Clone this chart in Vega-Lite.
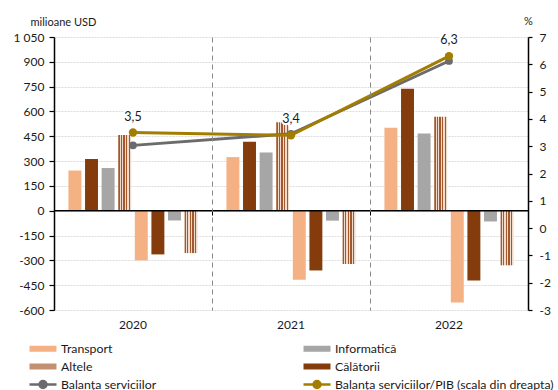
{
  "$schema": "https://vega.github.io/schema/vega-lite/v6.json",
  "width": 474,
  "height": 273,
  "autosize": {"type": "none"},
  "padding": {"left": 54, "top": 37, "right": 30, "bottom": 80},
  "background": "white",
  "config": {
    "view": {"stroke": null},
    "font": "Lato",
    "axis": {"labelFont": "Lato", "labelFontSize": 12, "labelColor": "#1a1a1a", "titleFont": "Lato", "titleFontWeight": "normal", "titleFontSize": 11, "titleColor": "#1a1a1a"},
    "legend": {"labelFont": "Lato"}
  },
  "datasets": {
    "bars": [
      {"year": "2020", "slot": "T+", "cat": "Transport", "value": 243},
      {"year": "2020", "slot": "C+", "cat": "Călătorii", "value": 312},
      {"year": "2020", "slot": "I+", "cat": "Informatică", "value": 258},
      {"year": "2020", "slot": "A+", "cat": "Altele", "value": 457},
      {"year": "2020", "slot": "T-", "cat": "Transport", "value": -300},
      {"year": "2020", "slot": "C-", "cat": "Călătorii", "value": -264},
      {"year": "2020", "slot": "I-", "cat": "Informatică", "value": -59},
      {"year": "2020", "slot": "A-", "cat": "Altele", "value": -256},
      {"year": "2021", "slot": "T+", "cat": "Transport", "value": 324},
      {"year": "2021", "slot": "C+", "cat": "Călătorii", "value": 417},
      {"year": "2021", "slot": "I+", "cat": "Informatică", "value": 352},
      {"year": "2021", "slot": "A+", "cat": "Altele", "value": 534},
      {"year": "2021", "slot": "T-", "cat": "Transport", "value": -417},
      {"year": "2021", "slot": "C-", "cat": "Călătorii", "value": -361},
      {"year": "2021", "slot": "I-", "cat": "Informatică", "value": -60},
      {"year": "2021", "slot": "A-", "cat": "Altele", "value": -322},
      {"year": "2022", "slot": "T+", "cat": "Transport", "value": 501},
      {"year": "2022", "slot": "C+", "cat": "Călătorii", "value": 737},
      {"year": "2022", "slot": "I+", "cat": "Informatică", "value": 467},
      {"year": "2022", "slot": "A+", "cat": "Altele", "value": 568},
      {"year": "2022", "slot": "T-", "cat": "Transport", "value": -554},
      {"year": "2022", "slot": "C-", "cat": "Călătorii", "value": -421},
      {"year": "2022", "slot": "I-", "cat": "Informatică", "value": -65},
      {"year": "2022", "slot": "A-", "cat": "Altele", "value": -330}
    ],
    "lines": [
      {"year": "2020", "bal": 395, "pct": 3.5, "lbl": "3,5"},
      {"year": "2021", "bal": 465, "pct": 3.4, "lbl": "3,4"},
      {"year": "2022", "bal": 905, "pct": 6.3, "lbl": "6,3"}
    ]
  },
  "layer": [
    {
      "resolve": {"axis": {"x": "independent", "y": "independent"}},
      "layer": [
        {
          "data": {"name": "bars"},
          "transform": [{"filter": "datum.cat !== 'Altele'"}],
          "mark": {"type": "bar"},
          "encoding": {
            "x": {"field": "year", "type": "nominal", "scale": {"domain": ["2020", "2021", "2022"], "paddingInner": 0, "paddingOuter": 0},
              "axis": {"orient": "bottom", "title": null, "domain": false, "ticks": false, "grid": false, "labelAngle": 0, "labelPadding": 9}},
            "xOffset": {"field": "slot", "type": "nominal", "scale": {"domain": ["T+", "C+", "I+", "A+", "T-", "C-", "I-", "A-"], "paddingInner": 0.22, "paddingOuter": 0.87}},
            "y": {"field": "value", "type": "quantitative", "scale": {"domain": [-600, 1050], "nice": false, "zero": false},
              "axis": {"values": [-600, -450, -300, -150, 0, 150, 300, 450, 600, 750, 900, 1050], "grid": false, "zindex": 1, "domainColor": "#000", "domainWidth": 1.5, "tickColor": "#000", "tickSize": 5, "tickWidth": 1.2, "labelPadding": 5,
                "labelExpr": "(datum.value < 0 ? '-' : '') + replace(format(abs(datum.value), ','), ',', ' ')",
                "title": "milioane USD", "titleAngle": 0, "titleAlign": "left", "titleBaseline": "middle", "titleX": -24, "titleY": -15}},
            "color": {"field": "cat", "type": "nominal",
              "scale": {"domain": ["Transport", "Altele", "Balanța serviciilor", "Informatică", "Călătorii", "Balanța serviciilor/PIB (scala din dreapta)"],
                "range": ["#f4b183", "#c39171", "#6b6b6b", "#a6a6a6", "#843c0c", "#a27d00"]},
              "legend": {
                "orient": "none", "legendX": -26, "legendY": 305, "columns": 2, "columnPadding": 141, "rowPadding": 1,
                "title": null, "labelFontSize": 12.3, "labelColor": "#1a1a1a", "labelOffset": 20, "labelLimit": 400, "symbolSize": 100, "symbolStrokeWidth": 2.5,
                "encode": {
                  "symbols": {
                    "update": {
                      "shape": {"signal": "indexof(datum.value, 'Balan') === 0 ? 'M-1,0H4.4M1,0A0.7,0.7 0 1,1 2.4,0A0.7,0.7 0 1,1 1,0Z' : 'M-1,-0.6H4.4V0.6H-1Z'"},
                      "fill": {"signal": "scale('color', datum.value)"},
                      "stroke": {"signal": "indexof(datum.value, 'Balan') === 0 ? scale('color', datum.value) : 'transparent'"},
                      "strokeWidth": {"value": 2.5},
                      "opacity": {"value": 1}
                    }
                  }
                }
              }
            }
          }
        },
        {
          "data": {"name": "bars"},
          "transform": [{"filter": "datum.cat === 'Altele'"}],
          "mark": {"type": "bar", "fill": {"gradient": "linear", "x1": 0, "y1": 0, "x2": 1, "y2": 0, "stops": [
            {"offset": 0, "color": "#a3582e"}, {"offset": 0.1, "color": "#a3582e"}, {"offset": 0.1, "color": "#f0dccd"}, {"offset": 0.2, "color": "#f0dccd"},
            {"offset": 0.2, "color": "#a3582e"}, {"offset": 0.3, "color": "#a3582e"}, {"offset": 0.3, "color": "#f0dccd"}, {"offset": 0.4, "color": "#f0dccd"},
            {"offset": 0.4, "color": "#a3582e"}, {"offset": 0.5, "color": "#a3582e"}, {"offset": 0.5, "color": "#f0dccd"}, {"offset": 0.6, "color": "#f0dccd"},
            {"offset": 0.6, "color": "#a3582e"}, {"offset": 0.7, "color": "#a3582e"}, {"offset": 0.7, "color": "#f0dccd"}, {"offset": 0.8, "color": "#f0dccd"},
            {"offset": 0.8, "color": "#a3582e"}, {"offset": 0.9, "color": "#a3582e"}, {"offset": 0.9, "color": "#f0dccd"}, {"offset": 1, "color": "#f0dccd"}]}},
          "encoding": {
            "x": {"field": "year", "type": "nominal", "axis": null},
            "xOffset": {"field": "slot", "type": "nominal"},
            "y": {"field": "value", "type": "quantitative", "axis": null}
          }
        },
        {
          "data": {"values": [{}]},
          "mark": {"type": "rule", "color": "#000", "strokeWidth": 1.3},
          "encoding": {"y": {"datum": 0, "type": "quantitative", "axis": null}}
        },
        {
          "data": {"name": "lines"},
          "mark": {"type": "line", "color": "#6b6b6b", "strokeWidth": 3, "point": {"filled": true, "size": 60, "color": "#6b6b6b"}},
          "encoding": {
            "x": {"field": "year", "type": "nominal",
              "axis": {"orient": "bottom", "offset": -99, "bandPosition": 0, "labels": false, "domain": false, "ticks": true, "tickSize": 4, "tickColor": "#000", "grid": true, "gridColor": "#888", "gridDash": [5, 4], "gridWidth": 1, "title": null, "zindex": 1}},
            "y": {"field": "bal", "type": "quantitative",
              "axis": {"values": [-600, -450, -300, -150, 0, 150, 300, 450, 600, 750, 900, 1050], "grid": true, "gridColor": "#dcdcdc", "gridDash": [2, 1], "domain": false, "ticks": false, "labels": false, "title": null, "zindex": 0}}
          }
        }
      ]
    },
    {
      "data": {"name": "lines"},
      "encoding": {
        "x": {"field": "year", "type": "nominal", "axis": null},
        "y": {"field": "pct", "type": "quantitative", "scale": {"domain": [-3, 7], "nice": false, "zero": false},
          "axis": {"orient": "right", "values": [-3, -2, -1, 0, 1, 2, 3, 4, 5, 6, 7], "grid": false, "domainColor": "#000", "domainWidth": 1.5, "tickColor": "#000", "tickSize": 4, "tickWidth": 1.2, "labelPadding": 7,
            "labelExpr": "(datum.value < 0 ? '-' : '') + abs(datum.value)",
            "title": "%", "titleAngle": 0, "titleAlign": "center", "titleBaseline": "middle", "titleX": 0, "titleY": -16}}
      },
      "layer": [
        {
          "mark": {"type": "line", "color": "#a27d00", "strokeWidth": 3, "point": {"filled": true, "size": 70, "color": "#a27d00"}}
        },
        {
          "mark": {"type": "text", "dy": -16, "fontSize": 12.5, "color": "#1a1a1a", "stroke": "white", "strokeWidth": 4, "strokeJoin": "round"},
          "encoding": {"text": {"field": "lbl"}}
        },
        {
          "mark": {"type": "text", "dy": -16, "fontSize": 12.5, "color": "#1a1a1a"},
          "encoding": {"text": {"field": "lbl"}}
        }
      ]
    }
  ],
  "resolve": {"scale": {"y": "independent"}, "axis": {"x": "independent"}}
}
